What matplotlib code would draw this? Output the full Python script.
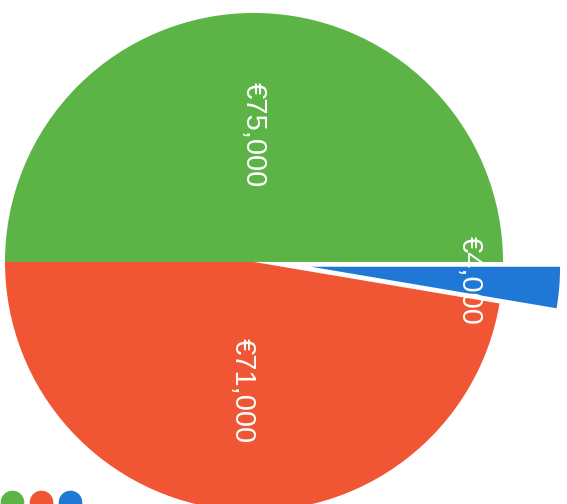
import matplotlib
matplotlib.use("Agg")
import matplotlib.pyplot as plt
import numpy as np
from matplotlib.lines import Line2D

categories = ["Green", "Red", "Blue"]
values = [75000, 71000, 4000]
value_labels = ["€75,000", "€71,000", "€4,000"]
colors = ["#5cb447", "#f05634", "#1f77d6"]

plt.rcParams["font.family"] = ["Liberation Sans", "DejaVu Sans"]

fig = plt.figure(figsize=(5.67, 5.04), dpi=100)
ax = fig.add_axes([0, 0, 1, 1])

wedges, _ = ax.pie(values, colors=colors, startangle=0, counterclock=True,
                   explode=[0, 0, 0.23], radius=1,
                   wedgeprops=dict(linewidth=0))

# labels along each wedge's bisector, rotated vertical
label_dist = [0.51, 0.52, 0.64]
for w, txt, d in zip(wedges, value_labels, label_dist):
    ang = np.deg2rad((w.theta1 + w.theta2) / 2)
    cx, cy = w.center
    ax.text(cx + d * np.cos(ang), cy + d * np.sin(ang), txt, color="white",
            fontsize=21, rotation=-90, ha="center", va="center")

ax.set_xlim(-1.02, 1.257)
ax.set_ylim(-0.972, 1.052)
ax.set_aspect("auto")
ax.axis("off")

handles = [Line2D([], [], marker="o", linestyle="", markersize=17,
                  markerfacecolor=c, markeredgewidth=0) for c in colors]
fig.legend(handles, ["", "", ""], loc="center left", ncol=3, frameon=False,
           bbox_to_anchor=(-0.004, 0.003), handletextpad=0, columnspacing=0.9,
           handlelength=1.2, borderaxespad=0)

fig.savefig("out.png", dpi=100)
